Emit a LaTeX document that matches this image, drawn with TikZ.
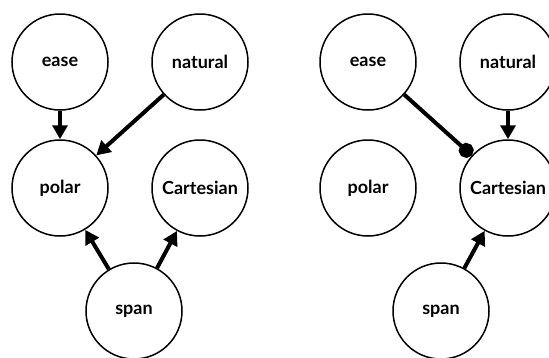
\documentclass[tikz,border=0pt]{standalone}
\usepackage{fontspec}
\setmainfont{Lato}
\usetikzlibrary{arrows.meta}
\begin{document}
\begin{tikzpicture}[x=1pt,y=-1pt,
  vnode/.style={circle,draw=black,line width=1.5pt,minimum size=96pt,inner sep=0pt,font=\fontsize{18}{20}\selectfont\bfseries},
  edge/.style={line width=4pt,-{Triangle[width=15pt,length=14pt]}},
  dotedge/.style={line width=4pt,-{Circle[length=15pt]}}]
\useasboundingbox (0,0) rectangle (549,357);
% left panel
\node[vnode] (le) at (60,62) {ease};
\node[vnode] (ln) at (200,62) {natural};
\node[vnode] (lp) at (60,188) {polar};
\node[vnode] (lc) at (200,188) {Cartesian};
\node[vnode] (ls) at (134,311) {span};
\draw[edge] (le) -- (lp);
\draw[edge] (ln) -- (lp);
\draw[edge] (ls) -- (lp);
\draw[edge] (ls) -- (lc);
% right panel
\node[vnode] (re) at (368,62) {ease};
\node[vnode] (rn) at (508,62) {natural};
\node[vnode] (rp) at (368,188) {polar};
\node[vnode] (rc) at (508,188) {Cartesian};
\node[vnode] (rs) at (441,311) {span};
\draw[dotedge] (re) -- (rc);
\draw[edge] (rn) -- (rc);
\draw[edge] (rs) -- (rc);
\end{tikzpicture}
\end{document}
